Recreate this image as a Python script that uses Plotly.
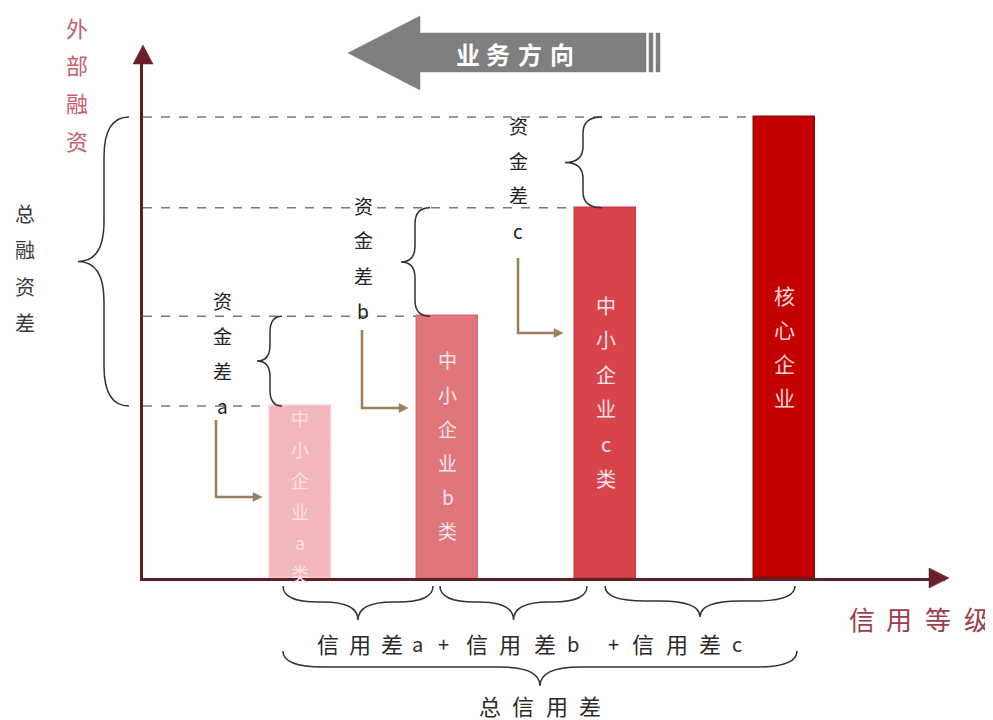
import plotly.graph_objects as go

# ---------------- data ----------------
categories = ["中小企业a类", "中小企业b类", "中小企业c类", "核心企业"]
credit_level = [1.57, 3.045, 4.625, 6.415]          # position along the credit-rating axis
external_financing = [37.3, 56.8, 80.3, 100.0]      # height = external financing
bar_text = [["中", "小", "企", "业", "a", "类"],
            ["中", "小", "企", "业", "b", "类"],
            ["中", "小", "企", "业", "c", "类"],
            ["核", "心", "企", "业"]]
gap_labels = [["资", "金", "差", "a"], ["资", "金", "差", "b"], ["资", "金", "差", "c"]]
credit_gap_text = ["信", "用", "差", "a", "+", "信", "用", "差", "b", "+", "信", "用", "差", "c"]
total_credit_text = ["总", "信", "用", "差"]
y_title = ["外", "部", "融", "资"]
x_title = ["信", "用", "等", "级"]
total_fin_text = ["总", "融", "资", "差"]
direction_text = ["业", "务", "方", "向"]

# ---------------- styles / geometry ----------------
bar_colors = ["#f2b6bd", "#e0767c", "#d9444c", "#c40000"]
bar_edges = ["#f6c8cc", "#d96c72", "#cc3a42", "#8e0a0a"]
BAR_W = 0.61
PAGE_OFF = 8                      # browser body margin
W, H = 993, 720                   # page size
L, T, R, B = 143, 55, 48, 142     # plot area in page pixels
PW, PH = W - L - R, H - T - B
XMAX, YMAX = 8.02, 113.45
FONT = "Noto Sans CJK SC"


def px(x):
    return (x - L) / PW


def py(y):
    return (H - B - y) / PH


def dx(v):
    return L + v / XMAX * PW


def dy(v):
    return H - B - v / YMAX * PH


def path(cmds):
    out = []
    for c in cmds:
        if isinstance(c, str):
            out.append(c)
        else:
            out.append(f"{px(c[0]):.5f},{py(c[1]):.5f}")
    return " ".join(out)


shapes = []
annotations = []


def add_text(ch, x, y, size, color, bold=False):
    annotations.append(dict(x=px(x), y=py(y), xref="paper", yref="paper", text=f"<b>{ch}</b>" if bold else ch,
                            showarrow=False, xanchor="center", yanchor="middle",
                            font=dict(family=FONT, size=size, color=color)))


def vtext(chars, x, y0, step, size, color, bold=False):
    for i, ch in enumerate(chars):
        add_text(ch, x, y0 + i * step, size, color, bold)


def vbrace(y0, y1, xe, xm, xt, r, color="#333333", width=1.5):
    ym = (y0 + y1) / 2
    d = path(["M", (xe, y0), "Q", (xm, y0), (xm, y0 + r), "L", (xm, ym - r), "Q", (xm, ym), (xt, ym),
              "Q", (xm, ym), (xm, ym + r), "L", (xm, y1 - r), "Q", (xm, y1), (xe, y1)])
    shapes.append(dict(type="path", path=d, xref="paper", yref="paper", line=dict(color=color, width=width)))


def hbrace(x0, x1, ye, ymid, yt, r, color="#333333", width=1.5):
    xm = (x0 + x1) / 2
    d = path(["M", (x0, ye), "Q", (x0, ymid), (x0 + r, ymid), "L", (xm - r, ymid), "Q", (xm, ymid), (xm, yt),
              "Q", (xm, ymid), (xm + r, ymid), "L", (x1 - r, ymid), "Q", (x1, ymid), (x1, ye)])
    shapes.append(dict(type="path", path=d, xref="paper", yref="paper", line=dict(color=color, width=width)))


def polygon(pts, fill, line=None):
    cmds = ["M", pts[0]]
    for p in pts[1:]:
        cmds += ["L", p]
    cmds.append("Z")
    shapes.append(dict(type="path", path=path(cmds), xref="paper", yref="paper", fillcolor=fill,
                       line=dict(color=line or fill, width=0.5)))


fig = go.Figure()
fig.add_trace(go.Bar(x=credit_level, y=external_financing, width=BAR_W,
                     marker=dict(color=bar_colors, line=dict(color=bar_edges, width=1.5)),
                     hoverinfo="skip", name="外部融资"))

# dashed guide lines from y axis to each bar's top-left corner
for xc, v in zip(credit_level, external_financing):
    shapes.append(dict(type="line", xref="x", yref="y", x0=0, x1=xc - BAR_W / 2, y0=v, y1=v,
                       line=dict(color="#7a7a7a", width=1.5, dash="dash"), layer="below"))

# axis arrowheads
AX_COL = "#6b1f2c"
polygon([(143, 45), (133, 64), (153, 64)], AX_COL)
polygon([(949, 578), (929, 568), (929, 588)], AX_COL)

# top "业务方向" arrow
GRAY = "#7f7f7f"
polygon([(348, 53), (420, 16), (420, 33), (646, 33), (646, 72), (420, 72), (420, 90)], GRAY)
polygon([(649, 33), (653, 33), (653, 72), (649, 72)], GRAY)
polygon([(656, 33), (660, 33), (660, 72), (656, 72)], GRAY)
for ch, x in zip(direction_text, [468, 498, 530, 562]):
    add_text(ch, x, 53, 24, "#ffffff", bold=True)

# bar labels (vertical)
bar_label_start = [418, 360, 305, 295]
bar_label_step = [31, 34, 34.6, 34]
bar_label_size = [18, 19, 20, 21]
bar_label_col = ["#fbe3e5", "#fde6e6", "#fde4e4", "#f9d6d6"]
for xc, chars, y0, st, sz, col in zip(credit_level, bar_text, bar_label_start, bar_label_step,
                                      bar_label_size, bar_label_col):
    vtext(chars, dx(xc), y0, st, sz, col)

# funding gap braces between consecutive bar tops
brace_x = [(282, 270, 257), (430, 415, 401), (602, 583, 565)]
for i in range(3):
    ytop = dy(external_financing[i + 1])
    ybot = dy(external_financing[i])
    xe, xm, xt = brace_x[i]
    vbrace(ytop, ybot, xe, xm, xt, 16)

gap_label_pos = [(222, 300), (363, 205), (518, 125)]
for chars, (x, y0) in zip(gap_labels, gap_label_pos):
    vtext(chars, x, y0, 35, 19, "#222222")

# L-shaped arrows from gap labels to bars
ARR = "#9a7e5e"
l_arrows = [(216, 420, 497, 262), (362, 330, 408, 408), (518, 258, 333, 563)]
for x, y0, y1, xh in l_arrows:
    shapes.append(dict(type="path", path=path(["M", (x, y0), "L", (x, y1), "L", (xh - 6, y1)]),
                       xref="paper", yref="paper", line=dict(color=ARR, width=2.5)))
    polygon([(xh, y1), (xh - 9, y1 - 4.5), (xh - 9, y1 + 4.5)], ARR)

# big left brace: total financing gap
vbrace(dy(external_financing[3]), dy(external_financing[0]), 129, 104, 78, 40)
vtext(total_fin_text, 25, 213, 36.5, 20, "#3a3a3a")

# y-axis title
vtext(y_title, 77, 27, 37.5, 22, "#c8606c")

# bottom braces
hbrace(283, 433, 586, 602, 620, 35)
hbrace(440, 587, 586, 602, 620, 35)
hbrace(605, 795, 586, 601, 617, 40)
hbrace(283, 797, 651, 667, 686, 40)

credit_gap_x = [328, 360, 392, 417, 443, 477, 510, 545, 573, 613, 643, 677, 710, 737]
for ch, x in zip(credit_gap_text, credit_gap_x):
    add_text(ch, x, 643, 22 if ch not in "abc+" else 20, "#2a2a2a")
for ch, x in zip(total_credit_text, [490, 523, 557, 590]):
    add_text(ch, x, 705, 22, "#2a2a2a")

# x-axis title
for ch, x in zip(x_title, [862, 899, 938, 977]):
    add_text(ch, x, 618, 26, "#9b3d4c")

# figure is placed at (8, 8) by the page's body margin: size/margins compensate
fig.update_layout(
    width=W - PAGE_OFF, height=H - PAGE_OFF, autosize=False,
    margin=dict(l=L - PAGE_OFF, r=R, t=T - PAGE_OFF, b=B, pad=0),
    paper_bgcolor="white", plot_bgcolor="white",
    showlegend=False, bargap=0,
    xaxis=dict(range=[0, XMAX], showgrid=False, zeroline=False, showticklabels=False, ticks="",
               showline=True, linecolor="#5a1f27", linewidth=3, fixedrange=True),
    yaxis=dict(range=[0, YMAX], showgrid=False, zeroline=False, showticklabels=False, ticks="",
               showline=True, linecolor="#5a1f27", linewidth=3, fixedrange=True),
    shapes=shapes, annotations=annotations,
)

fig.write_html("out.html")
